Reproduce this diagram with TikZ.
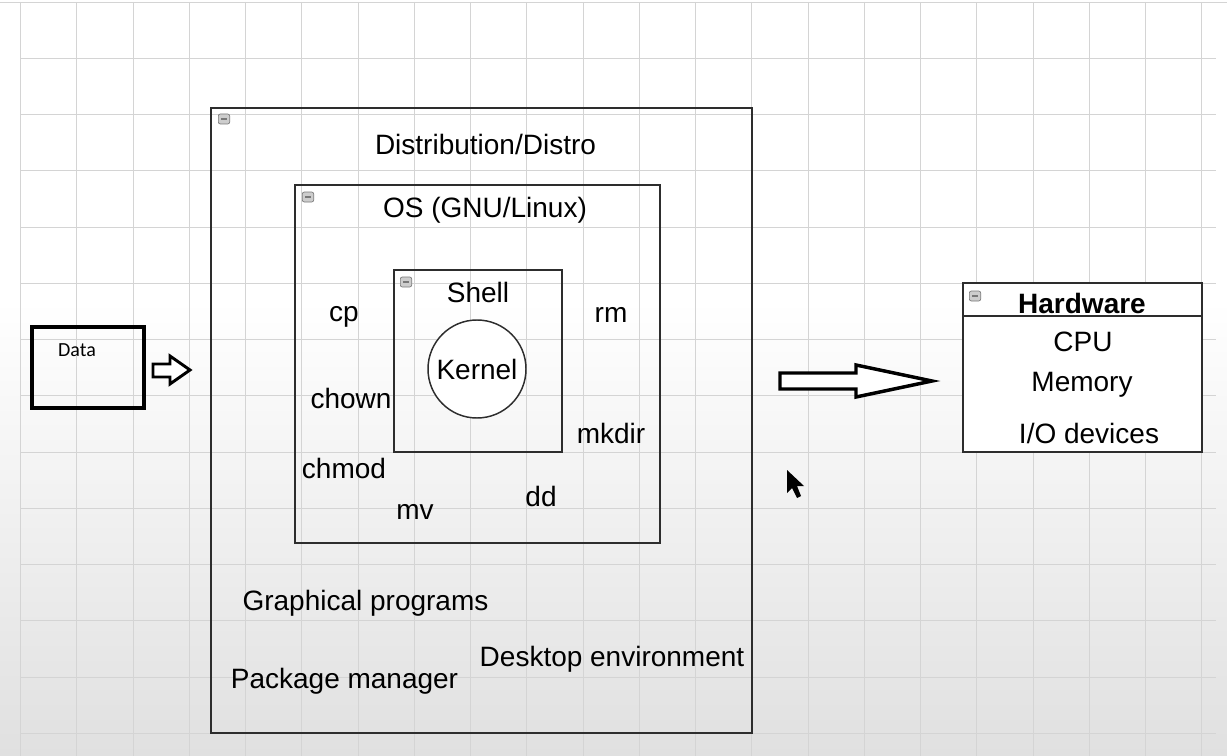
\documentclass[tikz,border=0pt]{standalone}
\usepackage{fontspec}
\setmainfont{Liberation Sans}
\newfontfamily\datafont{Carlito}
\begin{document}
\begin{tikzpicture}[x=0.75pt,y=0.75pt,yscale=-1,xscale=1,
  lbl/.style={font=\fontsize{21}{25}\selectfont, inner sep=0pt},
  frame/.style={draw={rgb, 255:red, 45; green, 45; blue, 45}, line width=1.1pt},
  gridline/.style={draw={rgb, 255:red, 212; green, 212; blue, 212}, line width=0.6pt},
  collapse/.style={draw={rgb, 255:red, 120; green, 120; blue, 120}, fill={rgb, 255:red, 205; green, 205; blue, 205},
    rounded corners=1.5pt, minimum width=8.5pt, minimum height=7.5pt, inner sep=0pt, line width=0.5pt,
    path picture={\draw[line width=1pt] ([xshift=2pt]path picture bounding box.west) -- ([xshift=-2pt]path picture bounding box.east);}},
  blockarrow/.style={draw=black, line width=2.4pt, line join=miter, fill=white}]
\useasboundingbox (0,0) rectangle (1227,756);

%Background
\fill [white] (0,0) rectangle (1227,300);
\shade [top color=white, bottom color={rgb, 255:red, 224; green, 224; blue, 224}] (0,300) rectangle (1227,756);
%Grid
\foreach \i in {0,...,21} \draw [gridline] ({20.5+56.25*\i},2) -- ({20.5+56.25*\i},756);
\foreach \j in {0,...,13} \draw [gridline] (20.5,{2+56.25*\j}) -- (1216,{2+56.25*\j});
\draw [gridline] (0,2) -- (1227,2);

%Shape: Rectangle [Data]
\draw [line width=3pt] (32,327) -- (144,327) -- (144,408) -- (32,408) -- cycle ;
%Shape: Right Arrow
\draw [blockarrow, line width=2.2pt] (153,364) -- (170,364) -- (170,356) -- (190,370) -- (170,384) -- (170,377) -- (153,377) -- cycle ;

%Shape: Rectangle [Distro]
\draw [frame] (211,108) -- (752,108) -- (752,733) -- (211,733) -- cycle ;
%Shape: Rectangle [OS]
\draw [frame] (295,185) -- (660,185) -- (660,543) -- (295,543) -- cycle ;
%Shape: Rectangle [Shell]
\draw [frame] (394,270) -- (562,270) -- (562,452) -- (394,452) -- cycle ;
%Shape: Circle [Kernel]
\draw [frame, fill=white] (477,369) circle [radius=49] ;

%Shape: Right Arrow
\draw [blockarrow, line width=2.6pt] (780,373) -- (856,373) -- (856,365) -- (932,381) -- (856,397) -- (856,389) -- (780,389) -- cycle ;

%Shape: Rectangle [Hardware]
\draw [frame, fill=white] (963,283) -- (1202,283) -- (1202,452) -- (963,452) -- cycle ;
\draw [frame] (963,316) -- (1202,316) ;

%Collapse icons
\draw (224,119) node [collapse] (distroicon) {};
\draw (308,197) node [collapse] (osicon) {};
\draw (406,282) node [collapse] (shellicon) {};
\draw (975,296) node [collapse] (hardwareicon) {};

%Mouse pointer
\fill [black] (787,470) -- (787,493) -- (792,488) -- (797,498) -- (801,496) -- (797,486) -- (804,486) -- cycle ;

% Text Node
\draw (77,350) node [font=\datafont\fontsize{15}{18}\selectfont] (data) {Data};
% Text Node
\draw (485.5,144) node [lbl] (distro) {Distribution/Distro};
% Text Node
\draw (485,210) node [lbl] (os) {OS (GNU/Linux)};
% Text Node
\draw (478,292) node [lbl] (shell) {Shell};
% Text Node
\draw (477,369) node [lbl] (kernel) {Kernel};
% Text Node
\draw (344,317) node [lbl] (cp) {cp};
% Text Node
\draw (611,315) node [lbl] (rm) {rm};
% Text Node
\draw (351,398) node [lbl] (chown) {chown};
% Text Node
\draw (611,433) node [lbl] (mkdir) {mkdir};
% Text Node
\draw (344,468) node [lbl] (chmod) {chmod};
% Text Node
\draw (541,496) node [lbl] (dd) {dd};
% Text Node
\draw (415,512) node [lbl] (mv) {mv};
% Text Node
\draw (365.5,603) node [lbl] (graphical) {Graphical programs};
% Text Node
\draw (344.5,681) node [lbl] (package) {Package manager};
% Text Node
\draw (612,659) node [lbl] (desktop) {Desktop environment};
% Text Node
\draw (1082,303) node [lbl, font=\fontsize{21}{25}\selectfont\bfseries] (hardware) {Hardware};
% Text Node
\draw (1083,342) node [lbl] (cpu) {CPU};
% Text Node
\draw (1082,385) node [lbl] (memory) {Memory};
% Text Node
\draw (1089,433) node [lbl] (io) {I/O devices};

\end{tikzpicture}
\end{document}
